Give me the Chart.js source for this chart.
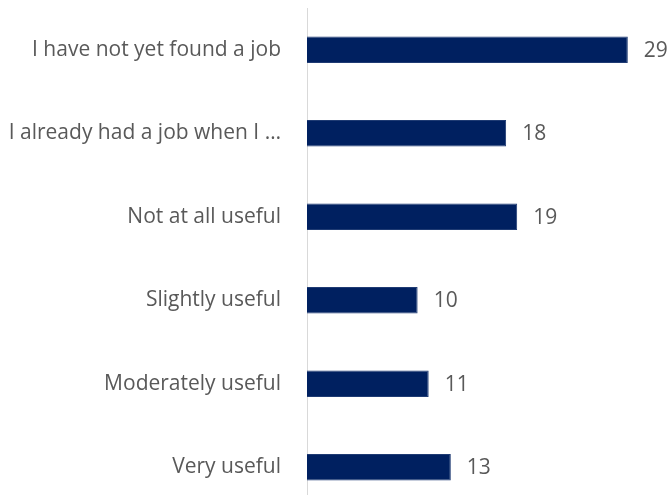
<!DOCTYPE html>
<html>
<head>
<meta charset="utf-8">
<script src="https://cdn.jsdelivr.net/npm/chart.js@4.4.1/dist/chart.umd.min.js"></script>
<style>
  html, body { margin: 0; padding: 0; background: #fff; overflow: hidden; }
  #wrap { position: relative; width: 668px; height: 510px; }
</style>
</head>
<body>
<div id="wrap"><canvas id="usefulChart"></canvas></div>
<script>
  const categories = [
    'I have not yet found a job',
    'I already had a job when I \u2026',
    'Not at all useful',
    'Slightly useful',
    'Moderately useful',
    'Very useful'
  ];
  const values = [29, 18, 19, 10, 11, 13];

  const textColor = '#595959';
  const labelFont = { family: "'Open Sans', sans-serif", size: 21 };

  // writes each bar's value just past its end
  const valueLabels = {
    id: 'valueLabels',
    afterDatasetsDraw(chart) {
      const { ctx } = chart;
      const meta = chart.getDatasetMeta(0);
      ctx.save();
      ctx.fillStyle = textColor;
      ctx.font = `${labelFont.size}px ${labelFont.family}`;
      ctx.textAlign = 'left';
      ctx.textBaseline = 'middle';
      meta.data.forEach((bar, i) => {
        ctx.fillText(String(values[i]), bar.x + 16, bar.y + 1);
      });
      ctx.restore();
    }
  };

  const ctx = document.getElementById('usefulChart').getContext('2d');
  new Chart(ctx, {
    type: 'bar',
    data: {
      labels: categories,
      datasets: [{
        data: values,
        backgroundColor: '#002060',
        borderColor: '#1f3b73',
        borderWidth: 1,
        categoryPercentage: 1,
        barPercentage: 0.32
      }]
    },
    options: {
      indexAxis: 'y',
      responsive: true,
      maintainAspectRatio: false,
      animation: false,
      layout: { padding: { top: 8, right: 7, bottom: 1, left: 0 } },
      scales: {
        x: {
          display: false,
          min: 0,
          max: 32
        },
        y: {
          grid: { display: false },
          border: { display: true, color: '#d9d9d9', width: 1 },
          ticks: {
            color: textColor,
            font: labelFont,
            padding: 18,
            autoSkip: false
          },
          afterFit(scale) {
            // fixed label column; no extra room above/below for tick text
            scale.width = 307;
            scale.paddingTop = 0;
            scale.paddingBottom = 0;
          }
        }
      },
      plugins: {
        legend: { display: false },
        tooltip: { enabled: false }
      }
    },
    plugins: [valueLabels]
  });
</script>
</body>
</html>
